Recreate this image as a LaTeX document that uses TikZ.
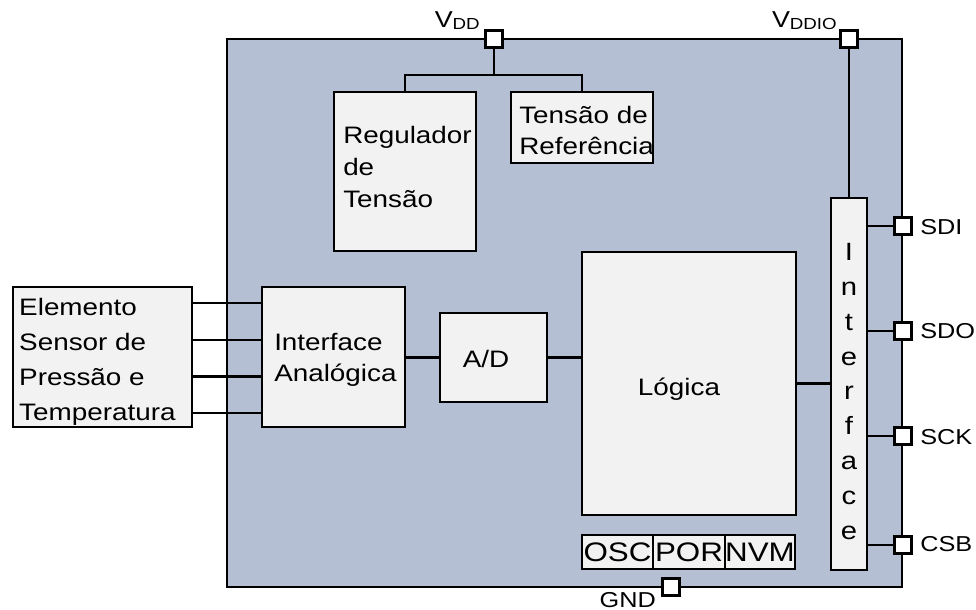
\documentclass[tikz,border=0pt]{standalone}
\usepackage{fontspec}
\setmainfont[FakeStretch=1.17]{Liberation Sans}
\usetikzlibrary{calc}
\definecolor{chipfill}{HTML}{B4BFD3}
\definecolor{boxfill}{HTML}{F2F2F2}
\begin{document}
\begin{tikzpicture}[x=0.5pt,y=-0.5pt,line width=1.25pt,
  blk/.style={draw,fill=boxfill,inner sep=0pt,line width=1.25pt},
  pin/.style={draw,fill=white,minimum size=8.5pt,inner sep=0pt,line width=1.25pt},
  txt/.style={inner sep=0pt,font=\fontsize{11.9}{15.8}\selectfont,align=left},
  lbl/.style={inner sep=0pt,font=\fontsize{10.8}{12}\selectfont},
  ltr/.style={inner sep=0pt,font=\fontsize{12.5}{14}\selectfont,anchor=base}]
\useasboundingbox (0,0) rectangle (976,610);
% chip
\node[draw,fill=chipfill,minimum width=337.5pt,minimum height=274pt,inner sep=0pt] (chip) at (564.5,313) {};
% blocks
\node[blk,minimum width=71pt,minimum height=79.5pt] (reg) at (405,171.5) {};
\node[blk,minimum width=71pt,minimum height=35.5pt] (ref) at (582,127.5) {};
\node[blk,minimum width=18pt,minimum height=186pt] (intf) at (849,384) {};
\node[blk,minimum width=107pt,minimum height=131.5pt] (logic) at (689,383.5) {};
\node[blk,minimum width=53.5pt,minimum height=44.5pt] (ad) at (493.5,357.5) {};
\node[blk,minimum width=71.5pt,minimum height=70pt] (ia) at (333.5,357) {};
\node[blk,minimum width=89.5pt,minimum height=70pt] (sensor) at (102.5,357) {};
\node[blk,minimum width=35.5pt,minimum height=17pt,font=\fontsize{13.4}{14}\selectfont] (osc) at (617.5,552) {OSC};
\node[blk,minimum width=36pt,minimum height=17pt,font=\fontsize{13.4}{14}\selectfont] (por) at (689,552) {POR};
\node[blk,minimum width=35pt,minimum height=17pt,font=\fontsize{13.4}{14}\selectfont] (nvm) at (760,552) {NVM};
% pins
\node[pin] (vdd) at (494,39) {};
\node[pin] (vddio) at (849,39) {};
\node[pin] (sdi) at (903,226) {};
\node[pin] (sdo) at (903,331) {};
\node[pin] (sck) at (903,436) {};
\node[pin] (csb) at (903,545) {};
\node[pin] (gnd) at (671,587) {};
% texts
\node[txt,anchor=west] (regt) at (342,167) {Regulador\\de\\Tensão};
\node[txt,anchor=west] (reft) at (518,130.5) {Tensão de\\Referência};
\node[txt,anchor=west,font=\fontsize{11.9}{17.5}\selectfont] (sent) at (18,361.5) {Elemento\\Sensor de\\Pressão e\\Temperatura};
\node[txt,anchor=west] (iat) at (273,360) {Interface\\Analógica};
\node[txt,anchor=base] (adt) at (486,367) {A/D};
\node[txt,anchor=base] (logt) at (679,395) {Lógica};
\foreach \l [count=\i] in {I,n,t,e,r,f,a,c,e}
  \node[ltr] (il\i) at (849,{261+34.75*(\i-1)}) {\l};
\node[lbl,anchor=west] (sdil) at (919,227) {SDI};
\node[lbl,anchor=west] (sdol) at (919,331) {SDO};
\node[lbl,anchor=west] (sckl) at (919,437) {SCK};
\node[lbl,anchor=west] (csbl) at (919,544) {CSB};
\node[lbl,anchor=base east,font=\fontsize{11.5}{12}\selectfont] (vddl) at (481,28) {V\raisebox{-1pt}{\fontsize{8}{9}\selectfont DD}};
\node[lbl,anchor=base east,font=\fontsize{11.5}{12}\selectfont] (vddiol) at (838,28) {V\raisebox{-1pt}{\fontsize{8}{9}\selectfont DDIO}};
\node[lbl,anchor=base east] (gndl) at (657,607) {GND};
% connectors
\coordinate (vj) at (494,75);
\draw (vdd.south) -- (vj);
\draw (reg.north) |- (vj) -| (ref.north);
\draw (vddio.south) -- (intf.north);
\foreach \p in {sdi,sdo,sck,csb}
  \draw (intf.east |- \p) -- (\p.west);
\draw (logic.east) -- (intf.west |- logic.east);
\draw (ia.east |- ad.west) -- (ad.west);
\draw (ad.east) -- (logic.west |- ad.east);
\foreach \f in {0.121,0.379,0.636,0.893}
  \draw ($(sensor.north east)!\f!(sensor.south east)$) -- ($(ia.north west)!\f!(ia.south west)$);
\end{tikzpicture}
\end{document}
